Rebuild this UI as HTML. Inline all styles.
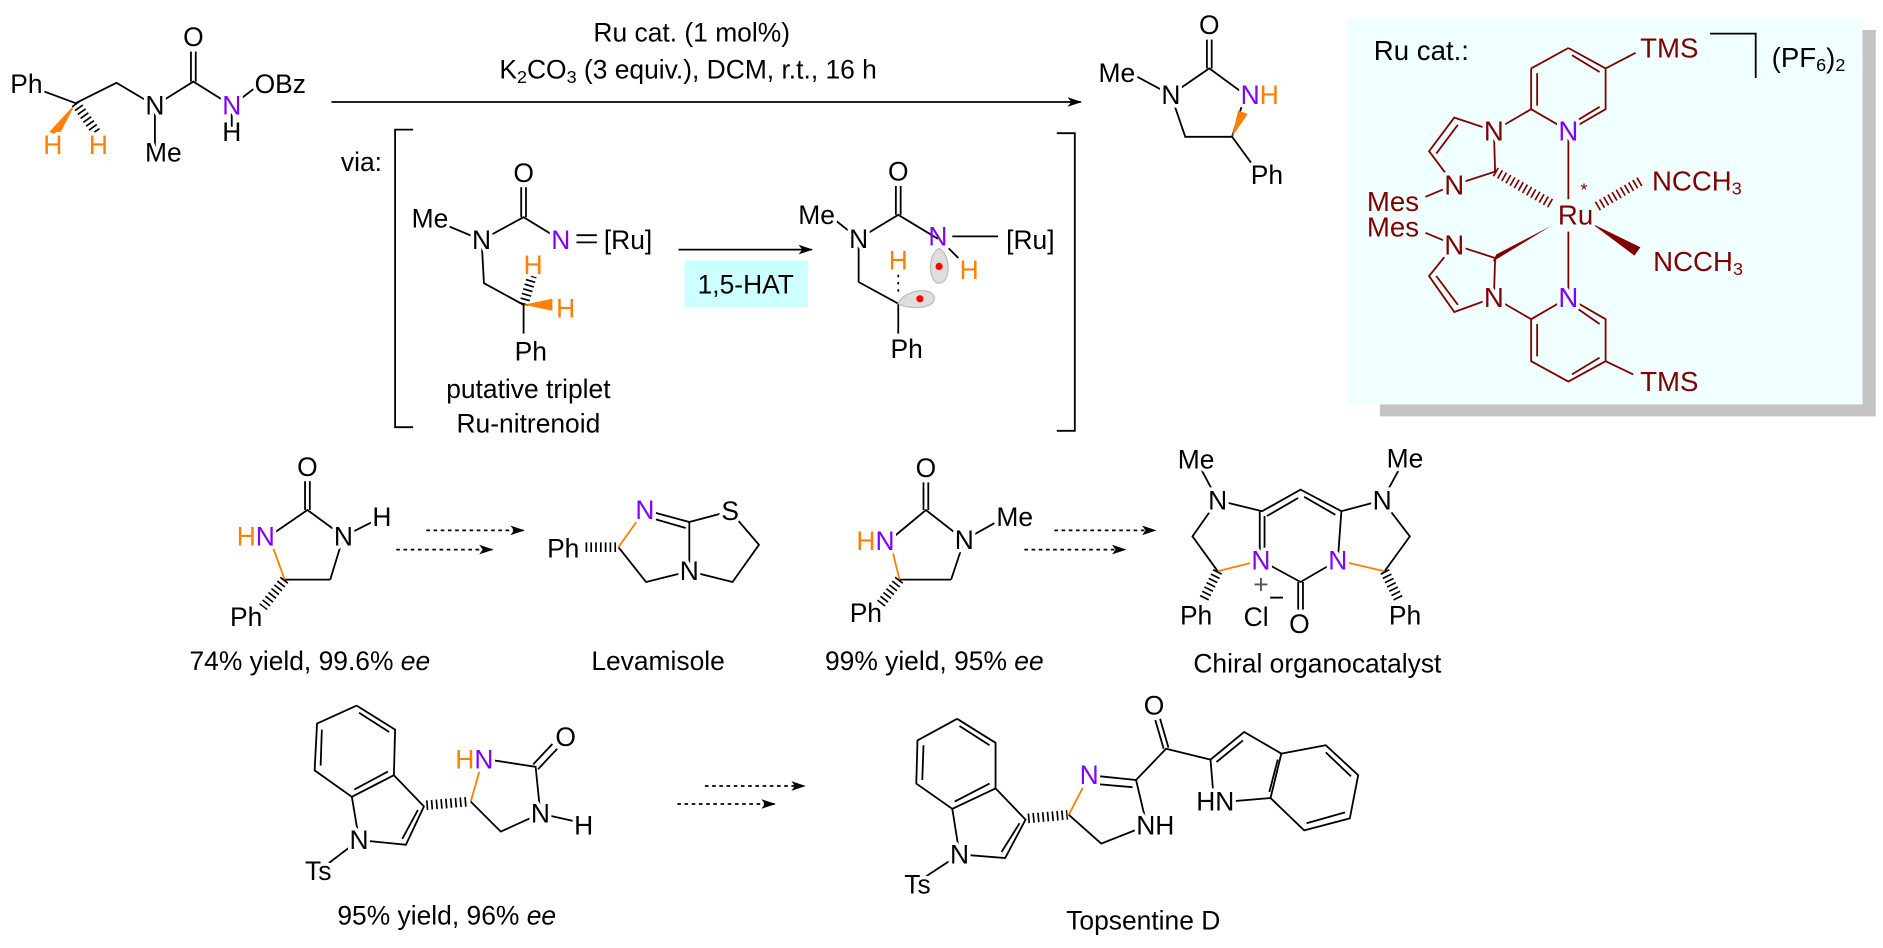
<!DOCTYPE html>
<html><head><meta charset="utf-8"><style>
html,body{margin:0;padding:0;background:#fff;}
svg{display:block}
text{font-family:"Liberation Sans",Arial,sans-serif;font-size:22px;dominant-baseline:central;text-anchor:middle;paint-order:stroke;stroke:#fff;stroke-width:6px;stroke-linejoin:round}
.n{stroke:none}
.c text{stroke:#f0ffff}
.r{fill:#800000;font-size:23px}
line,polyline,polygon.b{stroke:#000;stroke-width:1.5;fill:none}
.rd line,.rd polyline{stroke:#800000}
.o{fill:#ff8000}.p{fill:#8000ff}
.ol{stroke:#ff8000!important}
.h{stroke-width:8!important;stroke-dasharray:1.4 2.6}
</style></head><body>
<svg width="1883" height="948" viewBox="0 0 1568 790" preserveAspectRatio="none" xmlns="http://www.w3.org/2000/svg">
<defs><marker id="ah" markerWidth="12" markerHeight="10" refX="11" refY="5" orient="auto" markerUnits="userSpaceOnUse"><path d="M0,1 L12,5 L0,9 L3,5 z" fill="#000"/></marker></defs>

<!-- Substrate -->
<polyline points="20,70 63,86 97,69 129,88 161,68 193,88 214,72"/>
<line x1="159" y1="68" x2="159" y2="43"/><line x1="163" y1="68" x2="163" y2="43"/>
<line x1="129" y1="88" x2="129" y2="126"/><line x1="193" y1="88" x2="193" y2="110"/>
<polygon points="63,86 41,110 49,113" fill="#ff8000"/>
<line x1="63" y1="86" x2="80" y2="110" stroke="#ff8000" class="h"/>
<text x="22" y="70">Ph</text><text x="129" y="88">N</text><text x="161" y="31" class="n">O</text>
<text x="193" y="88" class="p">N</text><text x="193" y="110">H</text>
<text x="212" y="70" style="text-anchor:start">OBz</text>
<text x="136" y="127">Me</text>
<text x="44" y="121" class="o">H</text><text x="82" y="121" class="o">H</text>

<!-- main arrow -->
<line x1="276" y1="85" x2="900" y2="85" marker-end="url(#ah)"/>
<text x="576" y="27" class="n">Ru cat. (1 mol%)</text>
<text x="573" y="58" class="n">K<tspan font-size="15" dy="6">2</tspan><tspan dy="-6">CO</tspan><tspan font-size="15" dy="6">3</tspan><tspan dy="-6"> (3 equiv.), DCM, r.t., 16 h</tspan></text>

<!-- product -->
<polyline points="947,64 975,79 1007,57 1037,79 1026,114 987,114 975,79"/>
<line x1="1005" y1="57" x2="1005" y2="33"/><line x1="1009" y1="57" x2="1009" y2="33"/>
<line x1="1026" y1="114" x2="1045" y2="140"/>
<polygon points="1026,114 1031,92 1039,95" fill="#ff8000"/>
<text x="1007" y="21" class="n">O</text><text x="930" y="61">Me</text><text x="975" y="79">N</text>
<text x="1049" y="79"><tspan fill="#8000ff">N</tspan><tspan fill="#ff8000">H</tspan></text>
<text x="1055" y="146">Ph</text>

<!-- via & brackets -->
<text x="301" y="135" class="n">via:</text>
<polyline points="344,108 329,108 329,356 344,356"/>
<polyline points="880,111 895,111 895,359 880,359"/>

<!-- nitrenoid -->
<polyline points="358,182 401,200 436,181 467,200"/>
<line x1="434" y1="181" x2="434" y2="156"/><line x1="438" y1="181" x2="438" y2="156"/>
<polyline points="401,200 403,236 436,254 436,278"/>
<line x1="436" y1="254" x2="443" y2="230" stroke="#ff8000" class="h"/>
<polygon points="436,254 460,249 460,259" fill="#ff8000"/>
<line x1="480" y1="196" x2="497" y2="196" stroke="#ff00ff" stroke-width="1.8"/>
<line x1="480" y1="202" x2="497" y2="202" stroke="#ff00ff" stroke-width="1.8"/>
<text x="358" y="182">Me</text><text x="401" y="200">N</text><text x="436" y="144" class="n">O</text>
<text x="467" y="200" class="p">N</text><text x="523" y="200" class="n">[Ru]</text>
<text x="444" y="221" class="o">H</text><text x="471" y="257" class="o">H</text>
<text x="442" y="293">Ph</text>
<text x="440" y="324" class="n">putative triplet</text>
<text x="440" y="353" class="n">Ru-nitrenoid</text>

<!-- HAT arrow -->
<line x1="565" y1="208" x2="676" y2="208" marker-end="url(#ah)"/>
<rect x="570" y="217" width="103" height="39" fill="#ccffff"/>
<text x="621" y="237" class="n">1,5-HAT</text>

<!-- radical intermediate -->
<polyline points="690,179 715,199 748,179 781,199"/>
<line x1="746" y1="179" x2="746" y2="155"/><line x1="750" y1="179" x2="750" y2="155"/>
<line x1="793" y1="197" x2="831" y2="197"/>
<line x1="790" y1="207" x2="798" y2="215"/>
<polyline points="715,199 715,235 748,253 748,278"/>
<line x1="748" y1="229" x2="748" y2="246" stroke="#ff8000" stroke-width="3" stroke-dasharray="2 4"/>
<path d="M782,207 C792,212 792,236 782,236 C773,236 772,212 782,207 z" fill="#dedede" stroke="#bbb"/>
<circle cx="782" cy="222" r="3" fill="#f00"/>
<path d="M748,253 C752,242 776,238 778,248 C779,258 756,258 748,253 z" fill="#dedede" stroke="#bbb"/>
<circle cx="766" cy="249" r="3" fill="#f00"/>
<text x="680" y="179">Me</text><text x="715" y="199">N</text><text x="748" y="143" class="n">O</text>
<text x="781" y="197" class="p" style="stroke:none">N</text><text x="858" y="200" class="n">[Ru]</text>
<text x="807" y="225" class="o n">H</text><text x="748" y="217" class="o n">H</text>
<text x="755" y="291">Ph</text>

<!-- Catalyst box -->
<rect x="1149" y="25" width="413" height="322" fill="#c4c4c4"/>
<rect x="1122" y="15" width="429" height="322" fill="#f0ffff"/>
<g class="c rd">
<text x="1144" y="42" style="text-anchor:start;fill:#000;stroke:none;font-size:23px">Ru cat.:</text>
<polyline points="1424,28 1462,28 1462,65" style="stroke:#000"/>
<text x="1506" y="48" style="fill:#000;stroke:none;font-size:23px">(PF<tspan font-size="15" dy="6">6</tspan><tspan dy="-6">)</tspan><tspan font-size="15" dy="6">2</tspan></text>
<line x1="1275" y1="57" x2="1306" y2="40"/>
<polyline points="1306,40 1337,57 1337,91 1306,109 1275,91 1275,57"/>
<line x1="1280" y1="61" x2="1280" y2="88"/><line x1="1309" y1="46" x2="1332" y2="60"/><line x1="1309" y1="103" x2="1332" y2="89"/>
<line x1="1337" y1="57" x2="1362" y2="44"/>
<line x1="1275" y1="91" x2="1244" y2="109"/>
<polyline points="1244,109 1211,98 1190,126 1211,154 1245,143 1244,109"/>
<line x1="1214" y1="104" x2="1196" y2="128"/>
<line x1="1211" y1="154" x2="1187" y2="164"/>
<line x1="1245" y1="143" x2="1292" y2="170" class="h"/>
<line x1="1306" y1="109" x2="1306" y2="166"/>
<line x1="1306" y1="193" x2="1306" y2="248"/>
<line x1="1330" y1="172" x2="1366" y2="151" class="h"/>
<polygon points="1325,186 1366,206 1361,213" fill="#800000"/>
<polygon points="1292,188 1246,212 1243,218" fill="#800000"/>
<polyline points="1211,204 1245,215 1244,248 1211,260 1190,230 1211,204"/>
<line x1="1196" y1="230" x2="1214" y2="254"/>
<line x1="1211" y1="204" x2="1187" y2="194"/>
<line x1="1244" y1="248" x2="1275" y2="266"/>
<polyline points="1306,248 1337,266 1337,301 1306,318 1275,301 1275,266 1306,248"/>
<line x1="1280" y1="270" x2="1280" y2="297"/><line x1="1309" y1="312" x2="1332" y2="298"/><line x1="1309" y1="254" x2="1332" y2="270"/>
<line x1="1337" y1="301" x2="1360" y2="312"/>
<text x="1390" y="40" class="r">TMS</text>
<text x="1244" y="109" class="r">N</text><text x="1306" y="109" class="p" style="font-size:23px">N</text>
<text x="1211" y="154" class="r">N</text><text x="1160" y="168" class="r">Mes</text>
<text x="1160" y="189" class="r">Mes</text><text x="1211" y="204" class="r">N</text>
<text x="1312" y="179" class="r">Ru</text><text x="1319" y="158" class="r" style="font-size:15px">*</text>
<text x="1413" y="151" class="r">NCCH<tspan font-size="15" dy="6">3</tspan></text>
<text x="1414" y="218" class="r">NCCH<tspan font-size="15" dy="6">3</tspan></text>
<text x="1244" y="248" class="r">N</text><text x="1306" y="248" class="p" style="font-size:23px">N</text>
<text x="1390" y="318" class="r">TMS</text>
</g>

<!-- compound 1 -->
<polyline points="224,447 256,425 286,447 275,483"/>
<line x1="275" y1="483" x2="237" y2="483"/>
<line x1="237" y1="483" x2="224" y2="447" class="ol"/>
<line x1="254" y1="425" x2="254" y2="401"/><line x1="258" y1="425" x2="258" y2="401"/>
<line x1="286" y1="447" x2="318" y2="431"/>
<line x1="237" y1="483" x2="219" y2="506" class="h"/>
<text x="256" y="389" class="n">O</text><text x="286" y="447">N</text><text x="318" y="431">H</text>
<text x="213" y="447"><tspan fill="#ff8000">H</tspan><tspan fill="#8000ff">N</tspan></text>
<text x="205" y="514">Ph</text>
<text x="258" y="551" class="n">74% yield, 99.6% <tspan font-style="italic">ee</tspan></text>

<line x1="355" y1="442" x2="436" y2="442" stroke-dasharray="3 3" marker-end="url(#ah)"/>
<line x1="330" y1="458" x2="410" y2="458" stroke-dasharray="3 3" marker-end="url(#ah)"/>

<!-- Levamisole -->
<polyline points="574,435 608,426 632,454 610,485 574,476 538,485 515,456"/>
<line x1="515" y1="456" x2="537" y2="425" class="ol"/>
<line x1="537" y1="425" x2="574" y2="435"/><line x1="540" y1="431" x2="571" y2="440"/>
<line x1="574" y1="435" x2="574" y2="476"/>
<line x1="513" y1="456" x2="487" y2="456" class="h"/>
<text x="537" y="425" class="p">N</text><text x="608" y="426">S</text><text x="574" y="476">N</text>
<text x="469" y="457">Ph</text>
<text x="548" y="551" class="n">Levamisole</text>

<!-- compound 2 -->
<polyline points="741,450 771,425 803,450 792,483"/>
<line x1="792" y1="483" x2="749" y2="483"/>
<line x1="749" y1="483" x2="741" y2="450" class="ol"/>
<line x1="769" y1="425" x2="769" y2="402"/><line x1="773" y1="425" x2="773" y2="402"/>
<line x1="803" y1="450" x2="828" y2="436"/>
<line x1="749" y1="483" x2="732" y2="505" class="h"/>
<text x="771" y="390" class="n">O</text><text x="803" y="450">N</text><text x="845" y="431">Me</text>
<text x="729" y="451"><tspan fill="#ff8000">H</tspan><tspan fill="#8000ff">N</tspan></text>
<text x="721" y="511">Ph</text>
<text x="778" y="551" class="n">99% yield, 95% <tspan font-style="italic">ee</tspan></text>

<line x1="878" y1="442" x2="962" y2="442" stroke-dasharray="3 3" marker-end="url(#ah)"/>
<line x1="853" y1="458" x2="937" y2="458" stroke-dasharray="3 3" marker-end="url(#ah)"/>

<!-- organocatalyst -->
<polyline points="996,383 1014,417 1051,426 1083,408 1117,426 1151,417 1170,382"/>
<line x1="1055" y1="430" x2="1081" y2="415"/><line x1="1086" y1="414" x2="1112" y2="429"/>
<line x1="1049" y1="426" x2="1049" y2="467"/><line x1="1053" y1="430" x2="1053" y2="467"/>
<line x1="1117" y1="426" x2="1114" y2="467"/>
<polyline points="1050,467 1083,485 1114,467"/>
<line x1="1081" y1="485" x2="1081" y2="508"/><line x1="1085" y1="485" x2="1085" y2="508"/>
<polyline points="1014,417 993,447 1014,476"/>
<polyline points="1151,417 1174,447 1153,476"/>
<line x1="1014" y1="476" x2="1050" y2="467" class="ol"/>
<line x1="1153" y1="476" x2="1114" y2="467" class="ol"/>
<line x1="1014" y1="476" x2="1002" y2="500" class="h"/>
<line x1="1153" y1="476" x2="1165" y2="500" class="h"/>
<text x="996" y="383">Me</text><text x="1014" y="417">N</text><text x="1170" y="382">Me</text><text x="1151" y="417">N</text>
<text x="1050" y="467" class="p">N</text><text x="1114" y="467" class="p">N</text>
<text x="1050" y="487" class="n" font-size="17" fill="#555">+</text>
<text x="1082" y="520" class="n">O</text>
<text x="1046" y="514" class="n">Cl</text><text x="1063" y="498" class="n" font-size="17">−</text>
<text x="996" y="513">Ph</text><text x="1170" y="513">Ph</text>
<text x="1097" y="553" class="n">Chiral organocatalyst</text>

<!-- compound 3 -->
<polyline points="297,588 329,608 328,646 293,664 262,642 264,603 297,588"/>
<line x1="299" y1="594" x2="324" y2="610"/><line x1="268" y1="608" x2="267" y2="638"/><line x1="295" y1="658" x2="323" y2="643"/>
<polyline points="328,646 353,672 338,704 299,700 293,664"/>
<line x1="348" y1="675" x2="335" y2="699"/>
<line x1="299" y1="700" x2="265" y2="726"/>
<line x1="355" y1="671" x2="390" y2="668" class="h"/>
<line x1="392" y1="668" x2="400" y2="640" class="ol"/>
<polyline points="407,633 446,639 450,678 417,693 392,668"/>
<line x1="444" y1="637" x2="460" y2="620"/><line x1="448" y1="641" x2="464" y2="624"/>
<line x1="450" y1="678" x2="486" y2="686"/>
<text x="299" y="700">N</text><text x="265" y="726">Ts</text>
<text x="395" y="633"><tspan fill="#ff8000">H</tspan><tspan fill="#8000ff">N</tspan></text>
<text x="471" y="614" class="n">O</text><text x="450" y="678">N</text><text x="486" y="688">H</text>
<text x="372" y="763" class="n">95% yield, 96% <tspan font-style="italic">ee</tspan></text>

<line x1="587" y1="655" x2="670" y2="655" stroke-dasharray="3 3" marker-end="url(#ah)"/>
<line x1="564" y1="670" x2="645" y2="670" stroke-dasharray="3 3" marker-end="url(#ah)"/>

<!-- Topsentine D -->
<polyline points="797,599 829,619 829,657 793,674 763,653 764,617 797,599"/>
<line x1="799" y1="605" x2="824" y2="621"/><line x1="769" y1="621" x2="768" y2="650"/><line x1="795" y1="668" x2="824" y2="653"/>
<polyline points="829,657 854,683 837,715 799,712 793,674"/>
<line x1="849" y1="686" x2="834" y2="710"/>
<line x1="799" y1="712" x2="764" y2="735"/>
<line x1="856" y1="682" x2="889" y2="679" class="h"/>
<line x1="890" y1="679" x2="907" y2="646" class="ol"/>
<line x1="907" y1="646" x2="946" y2="650"/><line x1="909" y1="653" x2="943" y2="656"/>
<polyline points="946,650 955,688 917,703 890,679"/>
<polyline points="946,650 971,624 1008,633 1036,610 1067,628 1058,665 1011,669 1008,633"/>
<line x1="969" y1="624" x2="962" y2="600"/><line x1="973" y1="623" x2="966" y2="599"/>
<line x1="1013" y1="635" x2="1035" y2="617"/>
<line x1="1064" y1="633" x2="1057" y2="660"/>
<polyline points="1067,628 1104,621 1131,646 1124,682 1086,692 1058,665"/>
<line x1="1104" y1="627" x2="1125" y2="647"/><line x1="1120" y1="677" x2="1088" y2="686"/>
<text x="799" y="712">N</text><text x="764" y="737">Ts</text>
<text x="907" y="646" class="p">N</text><text x="961" y="588" class="n">O</text>
<text x="962" y="688">NH</text><text x="1012" y="668">HN</text>
<text x="952" y="767" class="n">Topsentine D</text>
</svg>
</body></html>
